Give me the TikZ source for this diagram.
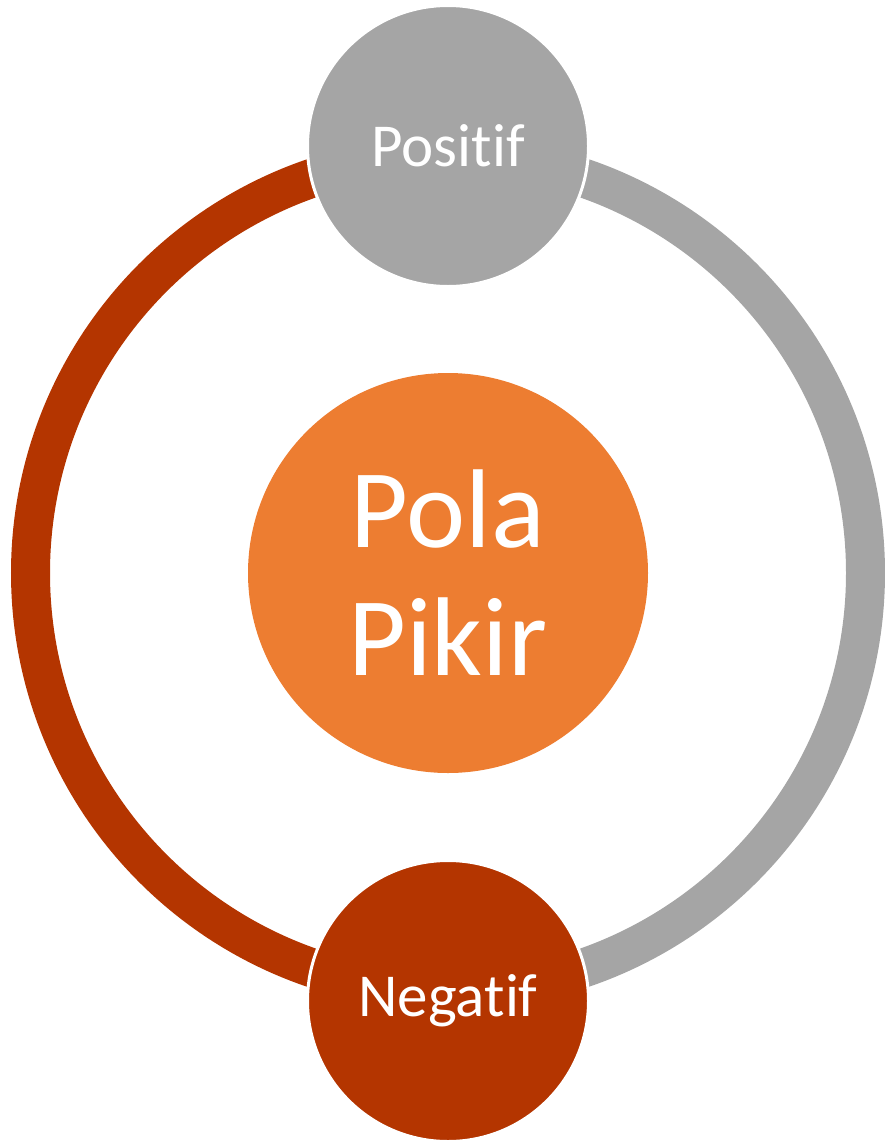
\documentclass[tikz,border=0pt]{standalone}
\usepackage{fontspec}
\setmainfont{Carlito}[RawFeature={-liga}]
\definecolor{rgray}{HTML}{A5A5A5}
\definecolor{rred}{HTML}{B43500}
\definecolor{rorange}{HTML}{ED7D31}
\begin{document}
\begin{tikzpicture}[x=1pt,y=-1pt,
  ring/.style={line width=39pt},
  smallc/.style={circle, draw=white, line width=3pt, inner sep=0pt, minimum size=281pt, text=white, font=\fontsize{61}{68}\selectfont},
  bigc/.style={circle, fill=rorange, inner sep=0pt, minimum size=400pt, text=white, align=center, font=\fontsize{112}{128}\selectfont}]
\useasboundingbox (0,0) rectangle (884,1143);
\coordinate (c) at (448,573);
\coordinate (top) at (448,155.5);
\draw[ring, rred] (top) arc[start angle=-90, end angle=-270, radius=417.5];
\draw[ring, rgray] (top) arc[start angle=-90, end angle=90, radius=417.5];
\node[smallc, fill=rgray] (pos) at (448,146) {Positif};
\node[smallc, fill=rred] (neg) at (448,1001) {Negatif};
\node[bigc] (pp) at (c) {Pola\\Pikir};
\end{tikzpicture}
\end{document}
